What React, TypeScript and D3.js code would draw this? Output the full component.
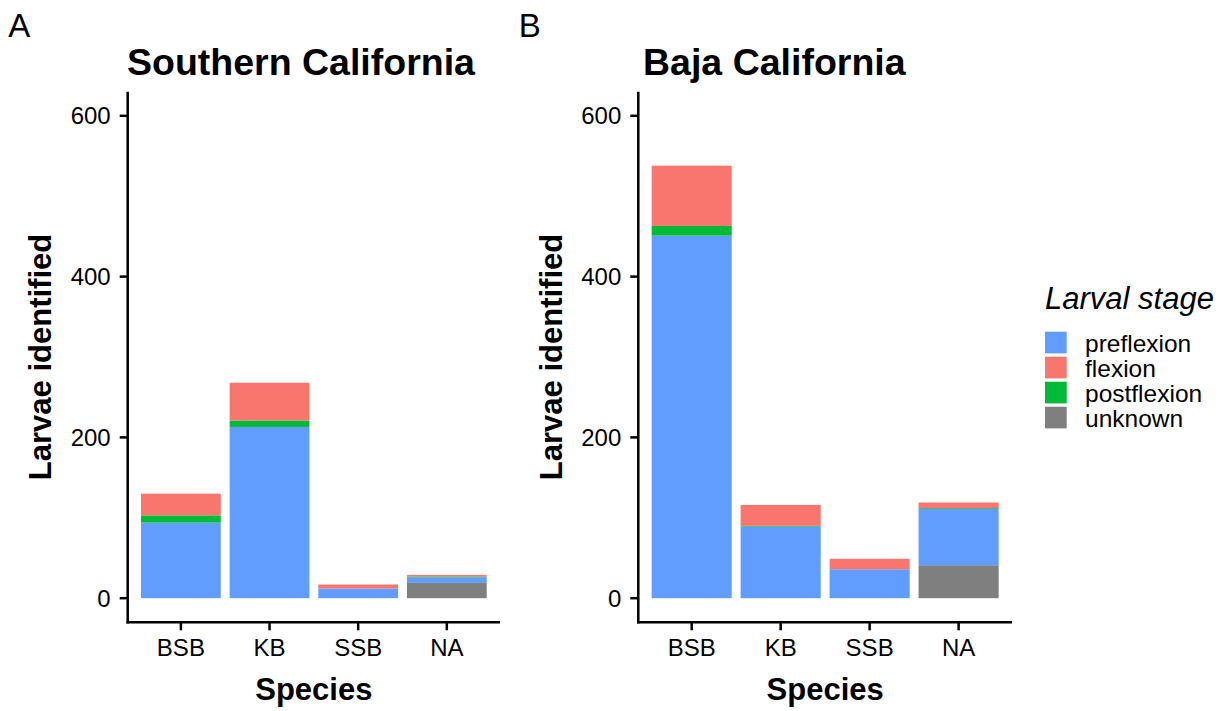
import React from 'react';
import * as d3 from 'd3';

const species = ['BSB', 'KB', 'SSB', 'NA'];
const stages = ['preflexion', 'flexion', 'postflexion', 'unknown'];
// bottom to top stacking order seen in the figure
const stackOrder = ['unknown', 'preflexion', 'postflexion', 'flexion'];
const stageColors = ['#619CFF', '#F8766D', '#00BA38', '#7F7F7F'];

const socalPreflexion = [94, 213, 12, 7];
const socalFlexion = [27, 47, 5, 2];
const socalPostflexion = [9, 8, 0, 1];
const socalUnknown = [0, 0, 0, 19];

const bajaPreflexion = [451, 89, 36, 70];
const bajaFlexion = [75, 26, 13, 7];
const bajaPostflexion = [12, 1, 0, 1];
const bajaUnknown = [0, 0, 0, 41];

const yTicks = [0, 200, 400, 600];

const FONT = '"Liberation Sans", Arial, Helvetica, sans-serif';
const W = 1229;
const H = 711;

const color = d3.scaleOrdinal<string, string>().domain(stages).range(stageColors);

const buildRows = (pre: number[], fl: number[], post: number[], unk: number[]) =>
    species.map((s, i) => ({
        species: s,
        preflexion: pre[i],
        flexion: fl[i],
        postflexion: post[i],
        unknown: unk[i],
    }));

const Panel = ({ rows, left, right, letter, title, titleX }) => {
    const top = 91.7;
    const bottom = 622.3;

    const x = d3.scaleBand().domain(species).range([left, right]).paddingInner(0.1).paddingOuter(0.15);
    // ylim(0, 600) with 5% expansion
    const y = d3.scaleLinear().domain([-30, 630]).range([bottom, top]);

    const series = d3.stack().keys(stackOrder)(rows as any);

    return (
        <g>
            <text x={left - 119.5} y={37} fontSize={33} fontFamily={FONT}>{letter}</text>
            <text x={titleX} y={75} fontSize={37.5} fontWeight="bold" fontFamily={FONT}>{title}</text>

            {/* bars */}
            {series.map((s) => (
                <g key={s.key} fill={color(s.key)}>
                    {s.map((d, i) => (
                        d[1] - d[0] > 0 ? (
                            <rect
                                key={i}
                                x={x(species[i])}
                                width={x.bandwidth()}
                                y={y(d[1])}
                                height={y(d[0]) - y(d[1])}
                            />
                        ) : null
                    ))}
                </g>
            ))}

            {/* y axis */}
            <line x1={left} x2={left} y1={top} y2={bottom + 1.2} stroke="#000" strokeWidth={2.5} />
            {yTicks.map((t) => (
                <g key={t}>
                    <line x1={left - 8} x2={left} y1={y(t)} y2={y(t)} stroke="#000" strokeWidth={2.5} />
                    <text x={left - 17} y={y(t)} dy="0.36em" textAnchor="end" fontSize={24} fontFamily={FONT}>{t}</text>
                </g>
            ))}

            {/* x axis */}
            <line x1={left - 1.2} x2={right} y1={bottom} y2={bottom} stroke="#000" strokeWidth={2.5} />
            {species.map((s) => {
                const cx = x(s) + x.bandwidth() / 2;
                return (
                    <g key={s}>
                        <line x1={cx} x2={cx} y1={bottom} y2={bottom + 8} stroke="#000" strokeWidth={2.5} />
                        <text x={cx} y={655.5} textAnchor="middle" fontSize={24} fontFamily={FONT}>{s}</text>
                    </g>
                );
            })}

            <text x={(left + right) / 2} y={700} textAnchor="middle" fontSize={31} fontWeight="bold" fontFamily={FONT}>Species</text>
            <text
                transform={`translate(${left - 76.5},${(top + bottom) / 2}) rotate(-90)`}
                textAnchor="middle"
                fontSize={31}
                fontWeight="bold"
                fontFamily={FONT}
            >
                Larvae identified
            </text>
        </g>
    );
};

const App = () => {
    const socal = buildRows(socalPreflexion, socalFlexion, socalPostflexion, socalUnknown);
    const baja = buildRows(bajaPreflexion, bajaFlexion, bajaPostflexion, bajaUnknown);

    const legendX = 1045;
    const legendY = 331.7;
    const keySize = 21.7;
    const keyStep = 25;

    return (
        <svg
            width={W}
            height={H}
            style={{ position: 'absolute', left: 0, top: 0, background: '#fff' }}
        >
            <rect width={W} height={H} fill="#fff" />
            <Panel rows={socal} left={127.7} right={500} letter="A" title="Southern California" titleX={127} />
            <Panel rows={baja} left={638.3} right={1012} letter="B" title="Baja California" titleX={643} />

            {/* legend */}
            <text x={legendX} y={309} fontSize={31} fontStyle="italic" fontFamily={FONT}>Larval stage</text>
            {stages.map((s, i) => (
                <g key={s}>
                    <rect x={legendX} y={legendY + i * keyStep} width={keySize} height={keySize} fill={color(s)} />
                    <text
                        x={1085}
                        y={legendY + i * keyStep + keySize / 2}
                        dy="0.38em"
                        fontSize={24.5}
                        fontFamily={FONT}
                    >
                        {s}
                    </text>
                </g>
            ))}
        </svg>
    );
};

export default App;
